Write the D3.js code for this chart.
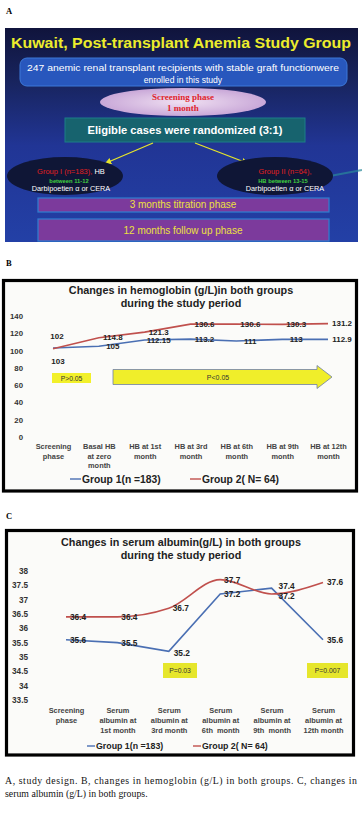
<!DOCTYPE html>
<html><head><meta charset="utf-8">
<script src="https://cdn.jsdelivr.net/npm/d3@7"></script>
<style>body{margin:0;background:#fff}svg{display:block}</style>
</head><body><svg id="c" width="362" height="815"></svg>
<script>
// ---------- DATA ----------
const hbCategories = ["Screening\nphase","Basal HB\nat zero\nmonth","HB at 1st\nmonth","HB at 3rd\nmonth","HB at 6th\nmonth","HB at 9th\nmonth","HB at 12th\nmonth"];
const hbGroup1 = [103,105,112.15,113.2,111,113,112.9];
const hbGroup2 = [102,114.8,121.3,130.6,130.6,130.3,131.2];
const hbTicks = [0,20,40,60,80,100,120,140];
const albCategories = ["Screening\nphase","Serum\nalbumin at\n1st month","Serum\nalbumin at\n3rd month","Serum\nalbumin at\n6th  month","Serum\nalbumin at\n9th  month","Serum\nalbumin at\n12th month"];
const albGroup1 = [35.6,35.5,35.2,37.2,37.4,35.6];
const albGroup2 = [36.4,36.4,36.7,37.7,37.2,37.6];
const albTicks = [33.5,34,34.5,35,35.5,36,36.5,37,37.5,38];
const seriesNames = ["Group 1(n =183)","Group 2( N= 64)"];
const seriesColors = ["#4a6fb3","#c0504d"];

const svg = d3.select("#c");
const SANS = "'Liberation Sans', Arial, sans-serif";
const SERIF = "'Liberation Serif', 'Times New Roman', serif";

// ---------- PANEL A ----------
const defs = svg.append("defs");
const g1 = defs.append("linearGradient").attr("id","bgA").attr("x1",0).attr("y1",0).attr("x2",0).attr("y2",1);
[[0,"#10143c"],[0.25,"#18245e"],[0.55,"#213595"],[1,"#2340a6"]].forEach(s=>g1.append("stop").attr("offset",s[0]).attr("stop-color",s[1]));
const g2 = defs.append("radialGradient").attr("id","ellA");
[[0,"#f0e0f2"],[1,"#c9a8d8"]].forEach(s=>g2.append("stop").attr("offset",s[0]).attr("stop-color",s[1]));

svg.append("text").attr("x",6).attr("y",14).attr("font-family",SERIF).attr("font-weight","bold").attr("font-size",8.5).text("A");
const A = svg.append("g");
A.append("rect").attr("x",5).attr("y",28).attr("width",353).attr("height",214).attr("fill","url(#bgA)");
A.append("text").attr("x",181).attr("y",48).attr("text-anchor","middle").attr("font-family",SANS).attr("font-weight","bold")
 .attr("font-size",14.5).attr("fill","#ecec2c").attr("textLength",340).attr("lengthAdjust","spacingAndGlyphs")
 .text("Kuwait, Post-transplant Anemia Study Group");
A.append("rect").attr("x",20).attr("y",58).attr("width",327).attr("height",28).attr("rx",7).attr("fill","#2857bd").attr("stroke","#3c78d8").attr("stroke-width",1);
A.append("text").attr("x",183).attr("y",71).attr("text-anchor","middle").attr("font-family",SANS).attr("font-size",8.6).attr("fill","#fff")
 .attr("textLength",312).attr("lengthAdjust","spacingAndGlyphs").text("247 anemic renal transplant recipients with stable graft functionwere");
A.append("text").attr("x",183).attr("y",83).attr("text-anchor","middle").attr("font-family",SANS).attr("font-size",8.6).attr("fill","#fff").text("enrolled in this study");
A.append("ellipse").attr("cx",183).attr("cy",102).attr("rx",83).attr("ry",14).attr("fill","url(#ellA)");
A.append("text").attr("x",183).attr("y",100).attr("text-anchor","middle").attr("font-family",SERIF).attr("font-weight","bold").attr("font-size",9).attr("fill","#e0242c").text("Screening phase");
A.append("text").attr("x",183).attr("y",111).attr("text-anchor","middle").attr("font-family",SERIF).attr("font-weight","bold").attr("font-size",9).attr("fill","#e0242c").text("1 month");
A.append("rect").attr("x",65).attr("y",118).attr("width",240).attr("height",24).attr("fill","#17636e").attr("stroke","#1c7e88").attr("stroke-width",1);
A.append("text").attr("x",185).attr("y",134).attr("text-anchor","middle").attr("font-family",SANS).attr("font-weight","bold").attr("font-size",10.5).attr("fill","#fff")
 .attr("textLength",195).attr("lengthAdjust","spacingAndGlyphs").text("Eligible cases were randomized (3:1)");
// arrows
defs.append("marker").attr("id","ah").attr("viewBox","0 0 10 10").attr("refX",8).attr("refY",5).attr("markerWidth",5).attr("markerHeight",5).attr("orient","auto")
 .append("path").attr("d","M0,0L10,5L0,10z").attr("fill","#e6e62a");
A.append("line").attr("x1",153).attr("y1",143).attr("x2",106).attr("y2",163).attr("stroke","#e6e62a").attr("stroke-width",1.3).attr("marker-end","url(#ah)");
A.append("line").attr("x1",195).attr("y1",143).attr("x2",247).attr("y2",163).attr("stroke","#e6e62a").attr("stroke-width",1.3).attr("marker-end","url(#ah)");
A.append("line").attr("x1",330).attr("y1",176).attr("x2",362).attr("y2",170).attr("stroke","#2a8a9a").attr("stroke-width",2).attr("opacity",0.7);
// group ellipses
[[65,71,"Group I (n=183),"," HB","between 11-12"],[275,285,"Group II (n=64),","","HB between 13-15"]].forEach(d=>{
  A.append("ellipse").attr("cx",d[0]).attr("cy",176).attr("rx",58).attr("ry",19).attr("fill","#0f1636");
  const t = A.append("text").attr("x",d[1]).attr("y",174).attr("text-anchor","middle").attr("font-family",SANS).attr("font-size",7.5);
  t.append("tspan").attr("fill","#e02020").text(d[2]);
  t.append("tspan").attr("fill","#fff").text(d[3]);
  A.append("text").attr("x",d[1]-2).attr("y",182.5).attr("text-anchor","middle").attr("font-family",SANS).attr("font-weight","bold").attr("font-size",5.8).attr("fill","#40d040").text(d[4]);
  A.append("text").attr("x",d[1]).attr("y",191).attr("text-anchor","middle").attr("font-family",SANS).attr("font-size",7.3).attr("fill","#fff").text("Darbipoetien \u03b1  or CERA");
});
// purple bars
[[198,14,207.5,"3 months titration phase"],[219,22,233.5,"12 months follow up phase"]].forEach(d=>{
  A.append("rect").attr("x",38).attr("y",d[0]).attr("width",291).attr("height",d[1]).attr("fill","#7c3a9c").attr("stroke","#2f7fd0").attr("stroke-width",1.2);
  A.append("text").attr("x",183).attr("y",d[2]).attr("text-anchor","middle").attr("font-family",SANS).attr("font-size",10).attr("fill","#ece040").text(d[3]);
});

// ---------- helper for line charts ----------
function lineChart(opt){
  const G = svg.append("g");
  G.append("rect").attr("x",opt.box[0]).attr("y",opt.box[1]).attr("width",opt.box[2]).attr("height",opt.box[3])
   .attr("fill","#fbfbf9").attr("stroke","#000").attr("stroke-width",3.2);
  opt.title.forEach((t,i)=>G.append("text").attr("x",opt.titleX).attr("y",opt.titleY+i*12.5).attr("text-anchor","middle")
     .attr("font-family",SANS).attr("font-weight","bold").attr("font-size",opt.titleSize).attr("fill","#222").text(t));
  const x = d3.scalePoint().domain(opt.cats).range(opt.xr);
  const y = d3.scaleLinear().domain(opt.yd).range(opt.yr);
  const ya = G.append("g").attr("transform",`translate(${opt.yAxisX},0)`)
     .call(d3.axisLeft(y).tickValues(opt.ticks).tickSize(0).tickPadding(0).tickFormat(d=>String(d)));
  ya.select(".domain").remove();
  ya.selectAll("text").attr("font-family",SANS).attr("font-weight","bold").attr("font-size",opt.tickSize).attr("fill","#333");
  const xa = G.append("g").attr("transform",`translate(0,${opt.xLabY})`).call(d3.axisBottom(x).tickSize(0).tickPadding(0));
  xa.select(".domain").remove();
  xa.selectAll("text").each(function(d){
    const el = d3.select(this).text(null).attr("y",0).attr("dy",null).attr("font-family",SANS).attr("font-weight","bold")
      .attr("font-size",opt.xLabSize).attr("fill","#444").style("white-space","pre");
    d.split("\n").forEach((s,i)=>el.append("tspan").attr("x",0).attr("y",i*opt.xLabGap).text(s));
  });
  const series = [opt.s1, opt.s2];
  series.forEach((vals,si)=>{
    const line = d3.line().x((v,i)=>x(opt.cats[i])).y(v=>y(v)).curve(opt.curves[si]);
    G.append("path").attr("d",line(vals)).attr("fill","none").attr("stroke",seriesColors[si]).attr("stroke-width",1.6);
  });
  // data labels
  series.forEach((vals,si)=>{
    vals.forEach((v,i)=>{
      const off = opt.labelOff(si,i);
      G.append("text").attr("x",x(opt.cats[i])+off[0]).attr("y",y(v)+off[1]).attr("text-anchor","middle").attr("dominant-baseline","central")
       .attr("font-family",SANS).attr("font-weight","bold").attr("font-size",opt.labSize).attr("fill","#222").text(String(v));
    });
  });
  // legend
  const lg = G.append("g");
  opt.legendX.forEach((lx,si)=>{
    lg.append("line").attr("x1",lx).attr("x2",lx+opt.legLine).attr("y1",opt.legendY).attr("y2",opt.legendY).attr("stroke",seriesColors[si]).attr("stroke-width",1.4);
    lg.append("text").attr("x",lx+opt.legLine+1).attr("y",opt.legendY).attr("dominant-baseline","central").attr("font-family",SANS).attr("font-weight","bold")
      .attr("font-size",opt.legSize).attr("fill","#222").text(seriesNames[si]);
  });
  return {G,x,y};
}

// ---------- PANEL B ----------
svg.append("text").attr("x",6).attr("y",266).attr("font-family",SERIF).attr("font-weight","bold").attr("font-size",8.5).text("B");
const B = lineChart({
  box:[3.5,280.5,353,210.5], title:["Changes in hemoglobin (g/L)in both groups","during the study period"], titleX:181, titleY:294, titleSize:10.8,
  cats:hbCategories, xr:[53,328], yd:[0,140], yr:[437,316], ticks:hbTicks, yAxisX:23, tickSize:7.8,
  xLabY:449, xLabSize:7.4, xLabGap:9.6, s1:hbGroup1, s2:hbGroup2, curves:[d3.curveLinear,d3.curveLinear],
  labSize:8, labelOff:(si,i)=> i===0 ? (si===1?[4,-12]:[5,14]) : [14,0],
  legendX:[70,190], legendY:479, legLine:11, legSize:10.3
});
// P annotations B
B.G.append("rect").attr("x",52).attr("y",373).attr("width",39).attr("height",10).attr("fill","#f2f02a");
B.G.append("text").attr("x",71.5).attr("y",378.5).attr("text-anchor","middle").attr("dominant-baseline","central").attr("font-family",SANS).attr("font-size",6.8).attr("fill","#333").text("P>0.05");
B.G.append("path").attr("d","M113,369.5H317V365.5L332,377L317,388.5V384.5H113Z").attr("fill","#f0ee2a").attr("stroke","#6f7fa8").attr("stroke-width",0.8);
B.G.append("text").attr("x",218).attr("y",377.5).attr("text-anchor","middle").attr("dominant-baseline","central").attr("font-family",SANS).attr("font-size",7).attr("fill","#333").text("P<0.05");

// ---------- PANEL C ----------
svg.append("text").attr("x",6).attr("y",519).attr("font-family",SERIF).attr("font-weight","bold").attr("font-size",8.5).text("C");
const C = lineChart({
  box:[6.5,530.5,347,224.5], title:["Changes in serum albumin(g/L) in both groups","during the study period"], titleX:181, titleY:546, titleSize:10.8,
  cats:albCategories, xr:[66,323], yd:[33.5,38], yr:[700,571], ticks:albTicks, yAxisX:28, tickSize:8.2,
  xLabY:713, xLabSize:7.4, xLabGap:10, s1:albGroup1, s2:albGroup2, curves:[d3.curveLinear,d3.curveMonotoneX],
  labSize:8.3, labelOff:(si,i)=> (si===0 && i===2) ? [13,2] : (i===4 ? (si===0?[15,-2.5]:[15,2.5]) : [12,0]),
  legendX:[87,193], legendY:746, legLine:8, legSize:8.8
});
C.G.append("rect").attr("x",163).attr("y",663).attr("width",34).attr("height",15).attr("fill","#e6e62c");
C.G.append("text").attr("x",180).attr("y",670.5).attr("text-anchor","middle").attr("dominant-baseline","central").attr("font-family",SANS).attr("font-size",6.8).attr("fill","#333").text("P=0.03");
C.G.append("rect").attr("x",307).attr("y",663).attr("width",41).attr("height",15).attr("fill","#e6e62c");
C.G.append("text").attr("x",327.5).attr("y",670.5).attr("text-anchor","middle").attr("dominant-baseline","central").attr("font-family",SANS).attr("font-size",6.8).attr("fill","#333").text("P=0.007");

// ---------- Caption ----------
svg.append("text").attr("x",5).attr("y",784).attr("font-family",SERIF).attr("font-size",9.8).attr("fill","#111")
  .attr("textLength",352).attr("lengthAdjust","spacing").text("A, study design. B, changes in hemoglobin (g/L) in both groups. C, changes in");
svg.append("text").attr("x",5).attr("y",797).attr("font-family",SERIF).attr("font-size",9.8).attr("fill","#111")
  .text("serum albumin (g/L) in both groups.");
</script></body></html>
